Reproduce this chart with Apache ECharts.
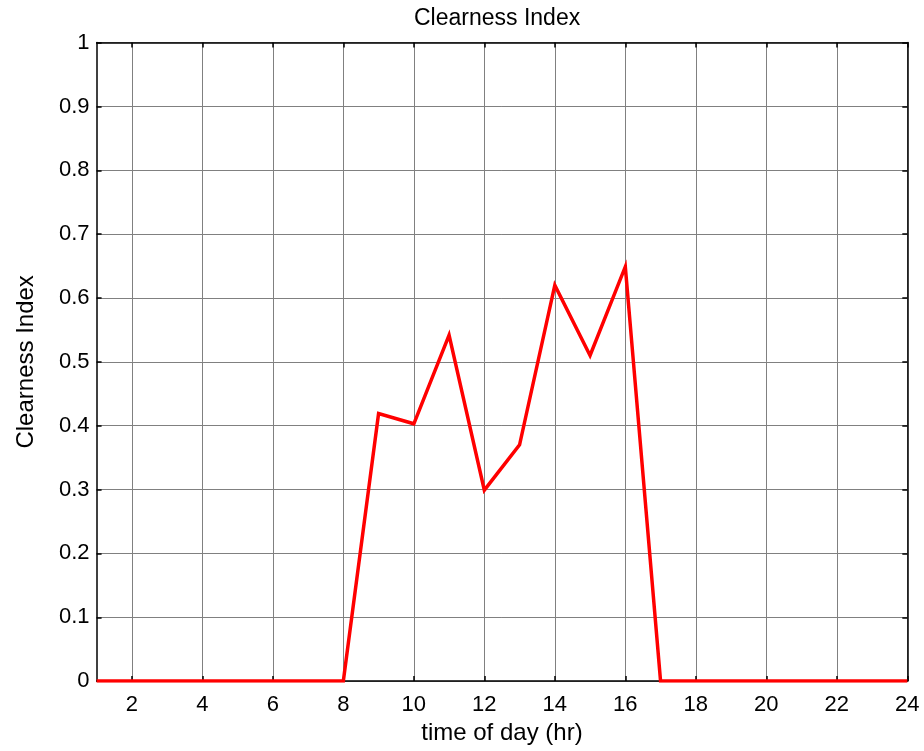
<!DOCTYPE html>
<html>
<head>
<meta charset="utf-8">
<title>Clearness Index</title>
<script src="https://cdn.jsdelivr.net/npm/echarts@6/dist/echarts.min.js"></script>
<style>
  html, body { margin: 0; padding: 0; background: #ffffff; }
  #chart { width: 924px; height: 751px; }
</style>
</head>
<body>
<div id="chart"></div>
<script>
// Hour of day (1..24)
const hours = [1, 2, 3, 4, 5, 6, 7, 8, 9, 10, 11, 12, 13, 14, 15, 16, 17, 18, 19, 20, 21, 22, 23, 24];
// Hourly clearness index
const clearness = [0, 0, 0, 0, 0, 0, 0, 0, 0.419, 0.403, 0.542, 0.299, 0.370, 0.620, 0.510, 0.649, 0, 0, 0, 0, 0, 0, 0, 0];
// Y tick values
const yTicks = [0, 0.1, 0.2, 0.3, 0.4, 0.5, 0.6, 0.7, 0.8, 0.9, 1];

const FONT = 'Liberation Sans, Arial, Helvetica, sans-serif';
const evenHour = (idx, val) => Number(val) % 2 === 0;

const GRID = { left: 96.6, right: 16.7, top: 42.6, bottom: 69.9 };

const chart = echarts.init(document.getElementById('chart'), null, { renderer: 'canvas' });

chart.setOption({
  animation: false,
  backgroundColor: '#ffffff',
  title: {
    text: 'Clearness Index',
    left: 409,
    top: 2,
    textStyle: { fontFamily: FONT, fontSize: 23, fontWeight: 'normal', color: '#000' }
  },
  grid: Object.assign({ containLabel: false }, GRID),
  xAxis: [
    {
      type: 'category',
      data: hours.map(String),
      boundaryGap: false,
      position: 'bottom',
      name: 'time of day (hr)',
      nameLocation: 'middle',
      nameGap: 39,
      nameTextStyle: { fontFamily: FONT, fontSize: 24, color: '#000' },
      axisLine: { show: true, onZero: false, lineStyle: { color: '#000', width: 1.5 } },
      axisTick: { show: true, inside: true, length: 5, interval: evenHour, lineStyle: { color: '#000', width: 1.5 } },
      axisLabel: { show: true, interval: evenHour, margin: 13, fontFamily: FONT, fontSize: 22, color: '#000' },
      splitLine: { show: true, interval: evenHour, lineStyle: { color: '#808080', width: 1 } }
    },
    {
      type: 'category',
      data: hours.map(String),
      boundaryGap: false,
      position: 'top',
      axisLine: { show: true, onZero: false, lineStyle: { color: '#000', width: 1.5 } },
      axisTick: { show: true, inside: true, length: 5, interval: evenHour, lineStyle: { color: '#000', width: 1.5 } },
      axisLabel: { show: false },
      splitLine: { show: false }
    }
  ],
  yAxis: [
    {
      type: 'value',
      min: 0,
      max: 1,
      interval: 0.1,
      position: 'left',
      name: 'Clearness Index',
      nameLocation: 'middle',
      nameGap: 58,
      nameRotate: 90,
      nameTextStyle: { fontFamily: FONT, fontSize: 24, color: '#000' },
      axisLine: { show: true, onZero: false, lineStyle: { color: '#000', width: 1.5 } },
      axisTick: { show: true, inside: true, length: 5, lineStyle: { color: '#000', width: 1.5 } },
      axisLabel: {
        margin: 7, fontFamily: FONT, fontSize: 22, color: '#000',
        formatter: v => {
          const t = yTicks.find(y => Math.abs(y - v) < 1e-9);
          return String(t !== undefined ? t : Math.round(v * 10) / 10);
        }
      },
      splitLine: { show: true, lineStyle: { color: '#808080', width: 1 } }
    },
    {
      type: 'value',
      min: 0,
      max: 1,
      interval: 0.1,
      position: 'right',
      axisLine: { show: true, onZero: false, lineStyle: { color: '#000', width: 1.5 } },
      axisTick: { show: true, inside: true, length: 5, lineStyle: { color: '#000', width: 1.5 } },
      axisLabel: { show: false },
      splitLine: { show: false }
    }
  ],
  series: [
    {
      type: 'line',
      data: clearness,
      xAxisIndex: 0,
      yAxisIndex: 0,
      showSymbol: false,
      symbol: 'none',
      lineStyle: { color: '#ff0000', width: 3.5, join: 'miter' },
      z: 10
    }
  ]
});
</script>
</body>
</html>
